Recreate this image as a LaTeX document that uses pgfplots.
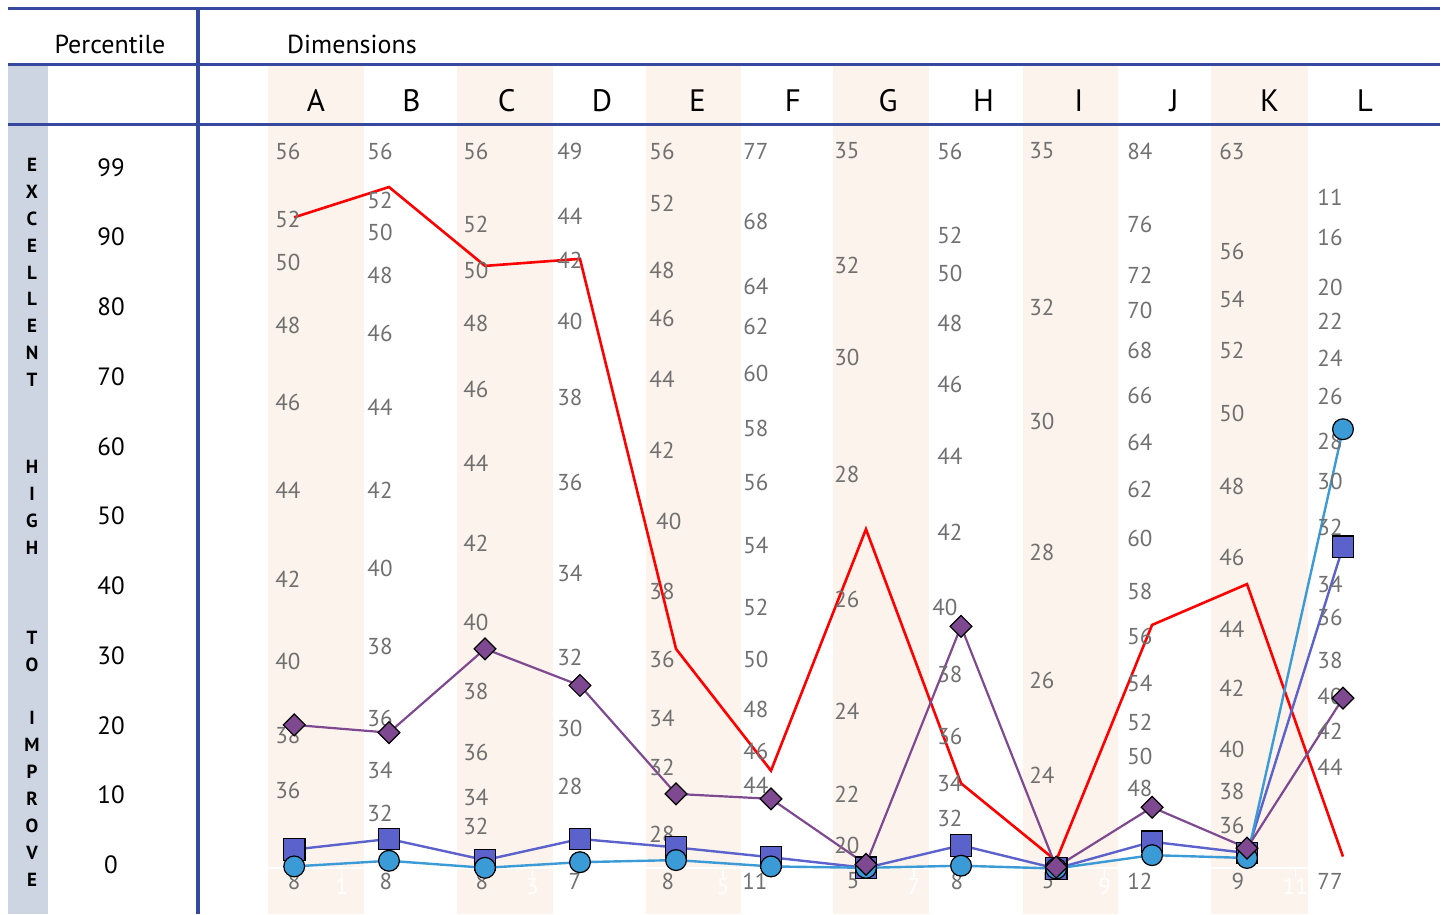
\documentclass[border=0pt]{standalone}
\usepackage{fontspec}
\setmainfont{PT Sans}
\usepackage{pgfplots}
\usepackage{pgfplotstable}
\pgfplotsset{compat=1.18}

\definecolor{rule}{RGB}{55,73,158}
\definecolor{strip}{RGB}{205,213,227}
\definecolor{peach}{RGB}{252,243,236}
\definecolor{lab}{RGB}{112,112,112}
\definecolor{purp}{RGB}{127,73,145}
\definecolor{slate}{RGB}{92,98,204}
\definecolor{sky}{RGB}{58,155,214}

% raw scores written in each dimension column: x, percentile height, score
\pgfplotstableread{
x y t
0.707 101.42 56
0.707 91.76 52
0.707 85.65 50
0.707 76.70 48
0.707 65.77 46
0.707 53.27 44
0.707 40.63 42
0.707 28.98 40
0.707 18.47 38
0.707 10.65 36
1.672 101.42 56
1.672 94.46 52
1.672 89.91 50
1.672 83.81 48
1.672 75.57 46
1.672 65.06 44
1.672 53.27 42
1.672 42.19 40
1.672 31.11 38
1.672 20.88 36
1.672 13.49 34
1.672 7.39 32
2.678 101.42 56
2.678 91.05 52
2.678 84.52 50
2.678 76.99 48
2.678 67.61 46
2.678 57.10 44
2.678 45.74 42
2.678 34.52 40
2.678 24.72 38
2.678 16.05 36
2.678 9.66 34
2.678 5.54 32
3.664 101.42 49
3.664 92.19 44
3.664 85.94 42
3.664 77.27 40
3.664 66.48 38
3.664 54.40 36
3.664 41.48 34
3.664 29.55 32
3.664 19.46 30
3.664 11.22 28
4.629 101.42 56
4.629 94.03 52
4.629 84.52 48
4.629 77.70 46
4.629 69.03 44
4.629 58.95 42
4.700 48.86 40
4.629 38.92 38
4.629 29.26 36
4.629 20.88 34
4.629 13.92 32
4.629 4.40 28
5.614 101.42 77
5.614 91.48 68
5.614 82.24 64
5.614 76.56 62
5.614 69.89 60
5.614 62.07 58
5.614 54.40 56
5.614 45.45 54
5.614 36.65 52
5.614 29.26 50
5.614 22.16 48
5.614 16.19 46
5.614 11.36 44
6.568 101.42 35
6.568 85.23 32
6.568 72.16 30
6.568 55.54 28
6.568 37.78 26
6.568 21.88 24
6.568 10.09 22
6.568 2.84 20
7.648 101.42 56
7.648 89.49 52
7.648 84.09 50
7.648 76.99 48
7.648 68.32 46
7.648 58.10 44
7.648 47.30 42
7.596 36.65 40
7.648 27.13 38
7.648 18.32 36
7.648 11.65 34
7.648 6.68 32
8.613 101.42 35
8.613 79.26 32
8.613 63.07 30
8.613 44.46 28
8.613 26.28 26
8.613 12.78 24
9.641 101.42 84
9.641 91.05 76
9.641 83.81 72
9.641 78.84 70
9.641 73.15 68
9.641 66.76 66
9.641 60.09 64
9.641 53.41 62
9.641 46.45 60
9.641 38.92 58
9.641 32.53 56
9.641 25.85 54
9.641 20.31 52
9.641 15.48 50
9.641 10.94 48
10.606 101.42 63
10.606 87.22 56
10.606 80.40 54
10.606 73.15 52
10.606 64.20 50
10.606 53.84 48
10.606 43.75 46
10.606 33.52 44
10.606 25.14 42
10.606 16.48 40
10.606 10.51 38
10.606 5.68 36
11.634 94.89 11
11.634 89.20 16
11.634 82.10 20
11.634 77.27 22
11.634 72.02 24
11.634 66.62 26
11.634 60.23 28
11.634 54.55 30
11.634 48.01 32
11.634 39.91 34
11.634 35.23 36
11.634 29.12 38
11.634 24.01 40
11.634 19.03 42
11.634 13.92 44
0.772 -2.27 8
1.734 -2.27 8
2.741 -2.27 8
3.716 -2.27 7
4.692 -2.27 8
5.604 -2.27 11
6.632 -2.27 5
7.722 -2.27 8
8.677 -2.27 5
9.641 -2.27 12
10.668 -2.27 9
11.634 -2.27 77
}\scores

\pgfplotstableread{
x y t
1.27 -3.0 1
3.27 -3.0 3
5.27 -3.0 5
7.27 -3.0 7
9.27 -3.0 9
11.27 -3.0 11
}\hidden

\begin{document}
\begin{tikzpicture}
\begin{axis}[
  x=47.68bp, y=3.52bp,
  xmin=-2.313, xmax=12.819, ymin=-6.96, ymax=122.87,
  hide axis, clip=false,
]
\coordinate (TL) at (rel axis cs:0,1);
\coordinate (BR) at (rel axis cs:1,0);
% shaded columns A C E G I K
\fill[peach] (axis cs:0.497,-6.96) rectangle (axis cs:1.504,113.6);
\fill[peach] (axis cs:2.479,-6.96) rectangle (axis cs:3.486,113.6);
\fill[peach] (axis cs:4.456,-6.96) rectangle (axis cs:5.457,113.6);
\fill[peach] (axis cs:6.422,-6.96) rectangle (axis cs:7.429,113.6);
\fill[peach] (axis cs:8.414,-6.96) rectangle (axis cs:9.410,113.6);
\fill[peach] (axis cs:10.391,-6.96) rectangle (axis cs:11.398,113.6);
\draw[white, line width=0.8bp] (axis cs:0.5,-0.43) -- (axis cs:12.5,-0.43);
\addplot[white, only marks, mark=|, mark size=2bp, line width=0.8bp]
  coordinates {(1.27,-1.14) (3.27,-1.14) (5.27,-1.14) (7.27,-1.14) (9.27,-1.14) (11.27,-1.14)};
\addplot[draw=none, nodes near coords, point meta=explicit symbolic,
  every node near coord/.append style={anchor=center, inner sep=0pt, text=white,
    font=\fontsize{11.5bp}{13bp}\selectfont}]
  table[x=x, y=y, meta=t] {\hidden};

% raw score labels
\addplot[draw=none, nodes near coords, point meta=explicit symbolic,
  every node near coord/.append style={anchor=center, inner sep=0pt, text=lab,
    font=\fontsize{11.5bp}{13bp}\selectfont}]
  table[x=x, y=y, meta=t] {\scores};

% profiles
\addplot[red, line width=1.3bp, mark=none] coordinates {
  (0.772,92.0) (1.766,96.3) (2.773,85.1) (3.769,86.1) (4.776,30.7) (5.772,13.4)
  (6.768,47.7) (7.765,11.6) (8.762,0.6) (9.768,34.1) (10.764,39.9) (11.77,1.2)};
\addplot[slate, line width=1.2bp, mark=square*, mark size=5.4bp,
  mark options={fill=slate, draw=black, line width=0.6bp}] coordinates {
  (0.772,2.2) (1.766,3.7) (2.773,0.7) (3.769,3.7) (4.776,2.5) (5.772,1.1)
  (6.768,-0.4) (7.765,2.8) (8.762,-0.5) (9.768,3.3) (10.764,1.7) (11.77,45.2)};
\addplot[sky, line width=1.2bp, mark=*, mark size=5.2bp,
  mark options={fill=sky, draw=black, line width=0.6bp}] coordinates {
  (0.772,-0.2) (1.766,0.6) (2.773,-0.4) (3.769,0.4) (4.776,0.7) (5.772,-0.2)
  (6.768,-0.4) (7.765,-0.1) (8.762,-0.5) (9.768,1.4) (10.764,1.0) (11.77,61.9)};
\addplot[purp, line width=1.1bp, mark=square*, mark size=3.85bp,
  mark options={fill=purp, draw=black, line width=0.6bp, rotate=45}] coordinates {
  (0.772,19.9) (1.766,18.8) (2.773,30.7) (3.769,25.5) (4.776,10.1) (5.772,9.4)
  (6.768,0.1) (7.765,33.9) (8.762,-0.3) (9.768,8.2) (10.764,2.4) (11.77,23.7)};
\end{axis}

\begin{scope}[shift={(TL)}, x=0.5bp, y=-0.5bp]
\fill[strip] (8,63) rectangle (48,914);
\draw[rule, line width=1.5bp] (8,9) -- (1440,9) (8,65) -- (1440,65)
  (8,125) -- (1440,125) (198,9) -- (198,914);
\node[anchor=base, inner sep=0pt, font=\fontsize{13bp}{15bp}\selectfont] at (110,54) {Percentile};
\node[anchor=base, inner sep=0pt, font=\fontsize{13bp}{15bp}\selectfont] at (352,54) {Dimensions};
\foreach \l [count=\k from 0] in {A,B,C,D,E,F,G,H,I,J,K,L}
  \node[anchor=base, inner sep=0pt, font=\fontsize{15.5bp}{17bp}\selectfont] at ({316+95.36*\k},111.7) {\l};
\foreach \v/\yy in {99/168,90/237,80/307,70/377,60/447,50/516,40/586,30/656,20/726,10/795,0/865}
  \node[inner sep=0pt, font=\fontsize{12.5bp}{14bp}\selectfont] at (111,\yy) {\v};
\foreach \l/\yy in {E/165,X/192,C/219,E/246,L/273,L/299,E/326,N/353,T/380,
  H/467,I/494,G/521,H/548,T/638,O/665,I/718,M/745,P/772,R/799,O/826,V/853,E/880}
  \node[inner sep=0pt, font=\bfseries\fontsize{9.5bp}{11bp}\selectfont] at (32,\yy) {\l};
\end{scope}
\pgfresetboundingbox
\path[use as bounding box] (TL) rectangle (BR);
\end{tikzpicture}
\end{document}
